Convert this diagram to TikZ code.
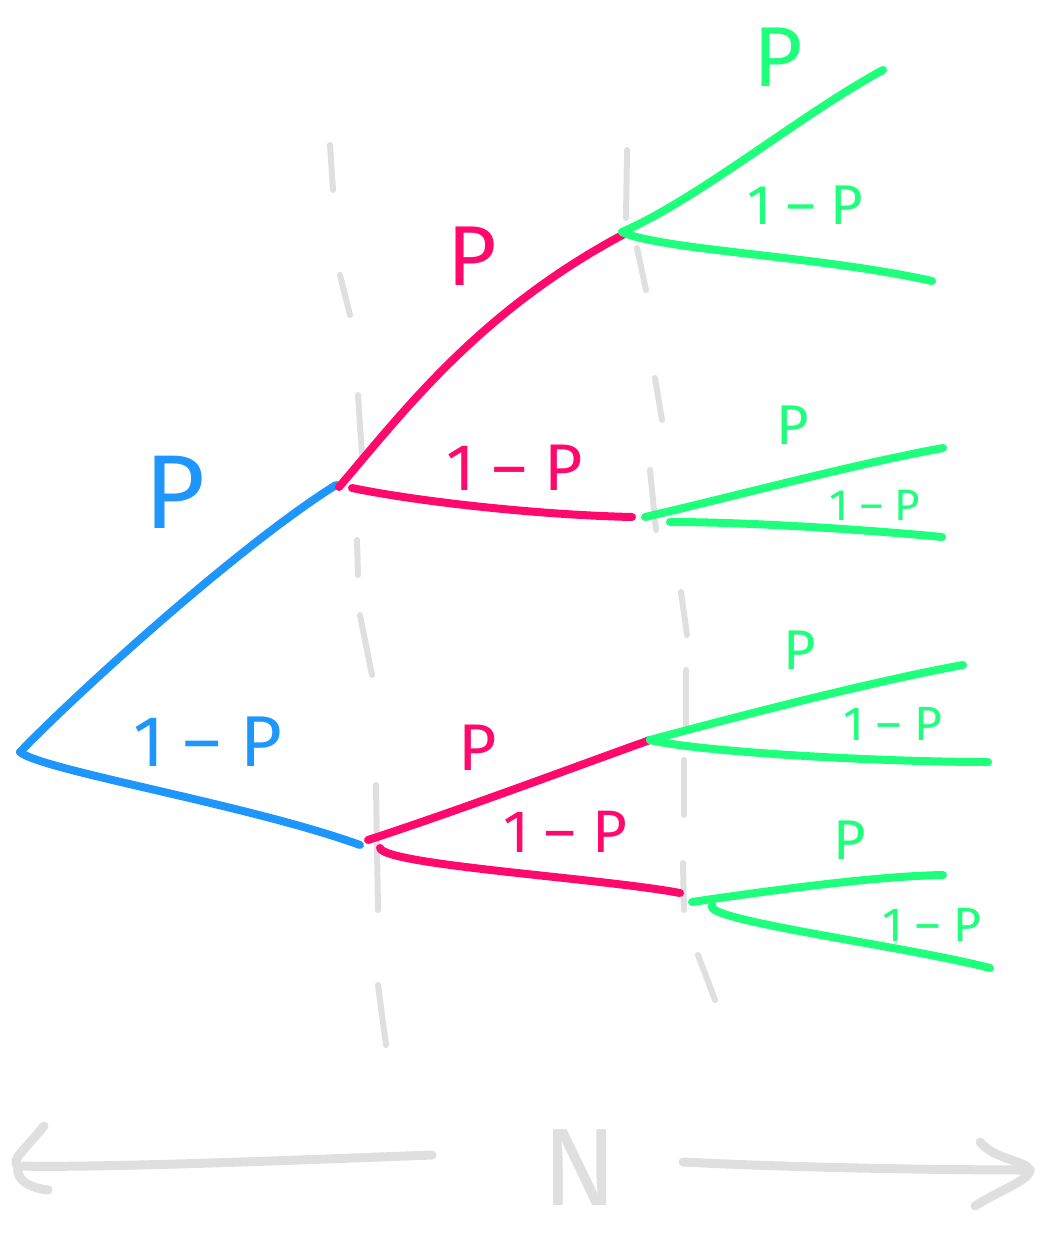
\documentclass[tikz,border=0pt]{standalone}
\usepackage{fontspec}
\setmainfont{Fira Sans}
\definecolor{cblue}{HTML}{1E96FC}
\definecolor{cpink}{HTML}{FF0A6C}
\definecolor{cgreen}{HTML}{1EFF7C}
\definecolor{cgrey}{HTML}{DFDFDF}
\begin{document}
\begin{tikzpicture}[x=1pt,y=-1pt,
  stroke/.style={line width=8pt,line cap=round,line join=round},
  bl/.style={stroke,draw=cblue},
  pk/.style={stroke,draw=cpink},
  gr/.style={stroke,draw=cgreen},
  gy/.style={line width=6pt,line cap=round,draw=cgrey},
  lab/.style={inner sep=0pt,font=\fontsize{#1}{#1}\selectfont},
  lab/.default=60]
\useasboundingbox (0,0) rectangle (1040,1247);
% grey dashed guides
\foreach \a/\b in {{330,145}/{333,190},{340,275}/{350,315},{358,395}/{362,455},{357,540}/{358,575},{360,615}/{372,675},{376,785}/{378,910},{378,985}/{386,1045}}
  \draw[gy] (\a) -- (\b);
\foreach \a/\b in {{627,150}/{626,218},{637,248}/{646,290},{655,378}/{662,420},{650,470}/{656,530},{681,592}/{687,635},{686,670}/{686,730},{684,760}/{684,815},{683,863}/{684,910},{698,955}/{715,1000}}
  \draw[gy] (\a) -- (\b);
% nodes
\coordinate (r) at (20,752);
\coordinate (a) at (336,485);
\coordinate (b) at (360,845);
\coordinate (a1) at (628,232);
\coordinate (a2) at (632,517);
\coordinate (b1) at (650,740);
\coordinate (b2) at (680,893);
\coordinate (l1) at (883,70);
\coordinate (l2) at (932,281);
\coordinate (l3) at (943,448);
\coordinate (l4) at (942,537);
\coordinate (l5) at (963,665);
\coordinate (l6) at (988,762);
\coordinate (l7) at (943,875);
\coordinate (l8) at (990,968);
% blue
\draw[bl] (r) .. controls (80,690) and (240,545) .. (a);
\draw[bl] (r) .. controls (40,770) and (250,805) .. (b);
% pink
\draw[pk] ([xshift=3pt,yshift=-2pt]a) .. controls (405,410) and (480,310) .. (a1);
\draw[pk] ([xshift=16pt,yshift=-3pt]a) .. controls (420,502) and (540,515) .. (a2);
\draw[pk] ([xshift=8pt,yshift=5pt]b) .. controls (460,810) and (580,765) .. (b1);
\draw[pk] ([xshift=20pt,yshift=-3pt]b) .. controls (385,865) and (600,878) .. (b2);
% green
\draw[gr] ([xshift=-6pt]a1) .. controls (700,198) and (800,115) .. (l1);
\draw[gr] ([xshift=-6pt]a1) .. controls (660,250) and (820,256) .. (l2);
\draw[gr] ([xshift=13pt]a2) .. controls (720,500) and (850,465) .. (l3);
\draw[gr] ([xshift=38pt,yshift=-5pt]a2) .. controls (750,522) and (870,530) .. (l4);
\draw[gr] (b1) .. controls (750,713) and (880,680) .. (l5);
\draw[gr] (b1) .. controls (700,752) and (880,762) .. (l6);
\draw[gr] ([xshift=12pt,yshift=-9pt]b2) .. controls (780,889) and (880,876) .. (l7);
\draw[gr] ([xshift=32pt,yshift=-12pt]b2) .. controls (700,920) and (900,945) .. (l8);
% labels
\node[lab=105,text=cblue] (tbp) at (175,492) {P};
\node[lab=72,text=cblue] (tbq) at (208,742) {1 – P};
\node[lab=85,text=cpink] (tpa) at (472,256) {P};
\node[lab=66,text=cpink] (tpb) at (515,468) {1 – P};
\node[lab=66,text=cpink] (tpc) at (478,748) {P};
\node[lab=60,text=cpink] (tpd) at (565,832) {1 – P};
\node[lab=85,text=cgreen] (tg1) at (778,57) {P};
\node[lab=56,text=cgreen] (tg2) at (805,205) {1 – P};
\node[lab=56,text=cgreen] (tg3) at (793,425) {P};
\node[lab=44,text=cgreen] (tg4) at (875,505) {1 – P};
\node[lab=56,text=cgreen] (tg5) at (800,650) {P};
\node[lab=48,text=cgreen] (tg6) at (893,724) {1 – P};
\node[lab=56,text=cgreen] (tg7) at (850,840) {P};
\node[lab=48,text=cgreen] (tg8) at (932,925) {1 – P};
% axis
\node[lab=110,text=cgrey] (n) at (580,1168) {N};
\coordinate (la) at (432,1155);
\coordinate (lb) at (18,1166);
\coordinate (ra) at (683,1162);
\coordinate (rb) at (1030,1170);
\draw[gy,line width=9pt] (la) .. controls (300,1160) and (100,1168) .. (lb);
\draw[gy,line width=9pt] (44,1126) .. controls (25,1150) and (10,1160) .. (lb) .. controls (15,1180) and (30,1188) .. (48,1190);
\draw[gy,line width=9pt] (ra) .. controls (800,1168) and (950,1170) .. (rb);
\draw[gy,line width=9pt] (980,1142) .. controls (995,1160) and (1025,1160) .. (rb) .. controls (1030,1180) and (1000,1190) .. (975,1206);
\end{tikzpicture}
\end{document}
